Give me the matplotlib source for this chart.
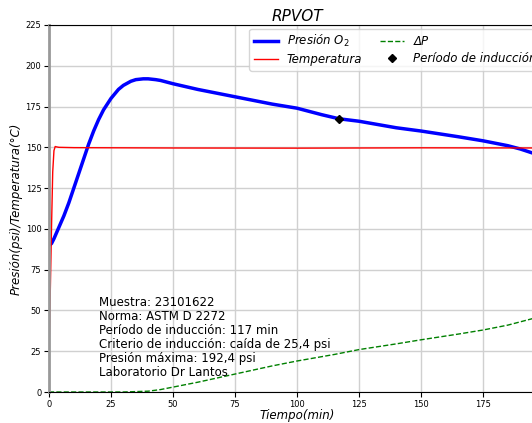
import matplotlib
matplotlib.use("Agg")
import numpy as np
import matplotlib.pyplot as plt

t_pres = [0, 1, 2, 4, 6, 8, 10, 12, 14, 16, 18, 20, 22, 25, 28, 30, 33, 35, 38, 40, 43, 45, 50, 60, 75, 90, 100, 110, 117, 125, 140, 150, 165, 175, 185, 190, 195, 200]
pres = [90, 91, 94, 101, 108, 116, 125, 134, 143, 152, 160, 167, 173, 180, 185.5, 188, 190.5, 191.5, 192, 192, 191.5, 191, 189, 185.5, 181, 176.5, 174, 170, 167.5, 166, 162, 160, 156.5, 154, 151, 149, 146.5, 144]
t_temp = [0, 0.5, 1, 1.5, 2, 2.5, 3, 4, 10, 50, 100, 150, 200]
temp = [25, 60, 100, 135, 148, 150.5, 150.3, 150, 149.8, 149.6, 149.5, 149.7, 149.6]
t_dp = [0, 30, 40, 45, 50, 60, 75, 90, 100, 115, 125, 140, 150, 165, 175, 185, 195, 200]
dp = [0, 0, 0.5, 1.5, 3, 6, 11, 16, 19, 23, 26, 29.5, 32, 35.5, 38, 41, 45, 47]
ind_t, ind_p = 117, 167.5

fig = plt.figure(figsize=(5.32, 4.23), dpi=100)
ax = fig.add_axes([49/532, 31/423, 200*2.48/532, 367/423])
ax.plot(t_pres, pres, color="blue", linewidth=2.5, label="Presión O$_2$")
ax.plot(t_temp, temp, color="red", linewidth=1, label="Temperatura")
ax.plot(t_dp, dp, color="green", linestyle="--", linewidth=1, label="ΔP")
ax.plot([ind_t], [ind_p], "D", color="black", markersize=4, linestyle="none", label="Período de inducción")
ax.set_xlim(0, 200)
ax.set_ylim(0, 225)
ax.set_xticks(np.arange(0, 200, 25))
ax.set_yticks(np.arange(0, 226, 25))
ax.tick_params(labelsize=6, pad=2)
ax.grid(True, color="#d0d0d0", linewidth=1)
ax.spines["left"].set_color("#999999")
ax.spines["left"].set_linewidth(2)
ax.set_xlabel("Tiempo(min)", style="italic", fontsize=8.5, labelpad=0)
ax.set_ylabel("Presión(psi)/Temperatura(°C)", style="italic", fontsize=8.5, labelpad=2)
ax.set_title("RPVOT", style="italic", fontsize=11, pad=3)
ax.legend(loc="upper right", ncol=2, prop={"style": "italic", "size": 8.5},
          borderaxespad=0.3, handlelength=2.0, columnspacing=1.5, labelspacing=0.3)
ax.text(20, 8, "Muestra: 23101622\nNorma: ASTM D 2272\nPeríodo de inducción: 117 min\n"
        "Criterio de inducción: caída de 25,4 psi\nPresión máxima: 192,4 psi\nLaboratorio Dr Lantos",
        fontsize=8.5, va="bottom", linespacing=1.1)
fig.savefig("out.png", dpi=100)
